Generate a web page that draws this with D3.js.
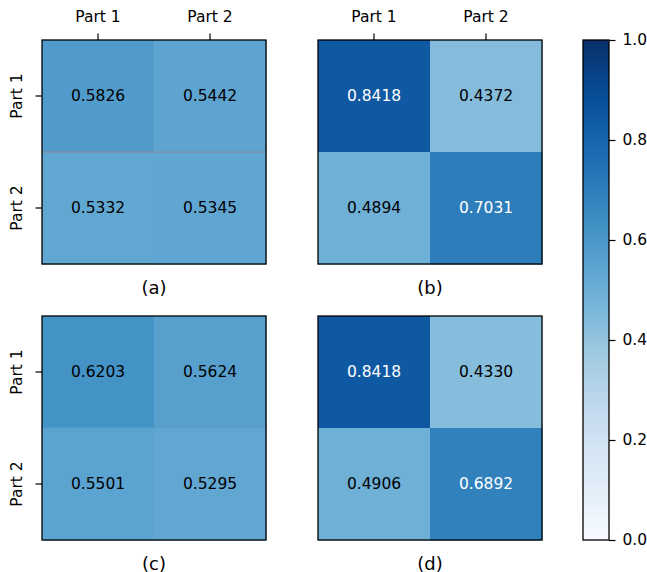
<!DOCTYPE html>
<html>
<head>
<meta charset="utf-8">
<script src="https://cdn.jsdelivr.net/npm/d3@7"></script>
<style>
  body { margin: 0; background: #fff; }
  svg { display: block; font-family: "DejaVu Sans", sans-serif; }
</style>
</head>
<body>
<svg id="chart" width="647" height="572"></svg>
<script>
// Row/column categories shared by all four matrices
const categories = ["Part 1", "Part 2"];

// Matrix values, row-major: [row][col]
const valuesA = [[0.5826, 0.5442], [0.5332, 0.5345]];
const valuesB = [[0.8418, 0.4372], [0.4894, 0.7031]];
const valuesC = [[0.6203, 0.5624], [0.5501, 0.5295]];
const valuesD = [[0.8418, 0.4330], [0.4906, 0.6892]];

const panelLabels = ["(a)", "(b)", "(c)", "(d)"];
const colorbarTicks = [0.0, 0.2, 0.4, 0.6, 0.8, 1.0];

// Blues colour map, linear through the nine ColorBrewer stops
const bluesStops = ["#f7fbff","#deebf7","#c6dbef","#9ecae1","#6baed6","#4292c6","#2171b5","#08519c","#08306b"];
const color = d3.scaleLinear()
  .domain(d3.range(bluesStops.length).map(i => i / (bluesStops.length - 1)))
  .range(bluesStops)
  .interpolate(d3.interpolateRgb)
  .clamp(true);

const svg = d3.select("#chart");
const size = 224;
const fs = 15.5;

const panels = [
  { values: valuesA, x: 42, y: 40, label: panelLabels[0], top: true, left: true, seam: "#8a8a8a" },
  { values: valuesB, x: 318, y: 40, label: panelLabels[1], top: true, left: false },
  { values: valuesC, x: 42, y: 316, label: panelLabels[2], top: false, left: true, seam: "#5d9fce" },
  { values: valuesD, x: 318, y: 316, label: panelLabels[3], top: false, left: false }
];

panels.forEach(p => {
  const g = svg.append("g").attr("transform", `translate(${p.x},${p.y})`);
  const xs = d3.scaleBand().domain(categories).range([0, size]);
  const ys = d3.scaleBand().domain(categories).range([0, size]);

  const cells = [];
  p.values.forEach((row, r) => row.forEach((v, c) => cells.push({ r: categories[r], c: categories[c], v })));

  g.selectAll("rect.cell").data(cells).join("rect")
    .attr("class", "cell")
    .attr("x", d => xs(d.c))
    .attr("y", d => ys(d.r))
    .attr("width", xs.bandwidth() + 0.5)
    .attr("height", ys.bandwidth() + 0.5)
    .attr("fill", d => color(d.v));

  if (p.seam) {
    g.append("line")
      .attr("x1", 0).attr("x2", size)
      .attr("y1", ys(categories[1])).attr("y2", ys(categories[1]))
      .attr("stroke", p.seam).attr("stroke-width", 1);
  }

  g.selectAll("text.val").data(cells).join("text")
    .attr("class", "val")
    .attr("x", d => xs(d.c) + xs.bandwidth() / 2)
    .attr("y", d => ys(d.r) + ys.bandwidth() / 2)
    .attr("text-anchor", "middle")
    .attr("dominant-baseline", "central")
    .attr("font-size", fs)
    .attr("fill", d => d.v > 0.65 ? "#ffffff" : "#000000")
    .text(d => d.v.toFixed(4));

  g.append("rect")
    .attr("width", size).attr("height", size)
    .attr("fill", "none").attr("stroke", "#000").attr("stroke-width", 1.3);

  if (p.top) {
    const ax = d3.axisTop(xs).tickSize(6.5).tickPadding(0);
    const ag = g.append("g").call(ax);
    ag.select(".domain").remove();
    ag.selectAll("line").attr("stroke", "#000").attr("stroke-width", 1.2);
    ag.selectAll("text").attr("font-size", fs).attr("fill", "#000")
      .attr("font-family", "DejaVu Sans, sans-serif")
      .attr("y", null).attr("dy", null)
      .attr("transform", "translate(0,-23)")
      .attr("dominant-baseline", "central");
  }
  if (p.left) {
    const ay = d3.axisLeft(ys).tickSize(6.5).tickPadding(4);
    const ag = g.append("g").call(ay);
    ag.select(".domain").remove();
    ag.selectAll("line").attr("stroke", "#000").attr("stroke-width", 1.2);
    ag.selectAll("text")
      .attr("font-size", fs).attr("fill", "#000")
      .attr("font-family", "DejaVu Sans, sans-serif")
      .attr("text-anchor", "middle")
      .attr("dy", null)
      .attr("x", null)
      .attr("transform", "translate(-25.5,0) rotate(-90)")
      .attr("dominant-baseline", "central");
  }

  g.append("text")
    .attr("x", size / 2).attr("y", size + 23)
    .attr("text-anchor", "middle")
    .attr("dominant-baseline", "central")
    .attr("font-size", 18)
    .attr("fill", "#000")
    .text(p.label);
});

// Colour bar
const cb = { x: 583, y: 40, w: 26, h: 500 };
const defs = svg.append("defs");
const grad = defs.append("linearGradient")
  .attr("id", "bluesGrad")
  .attr("x1", 0).attr("y1", 1).attr("x2", 0).attr("y2", 0);
grad.selectAll("stop").data(bluesStops).join("stop")
  .attr("offset", (d, i) => i / (bluesStops.length - 1))
  .attr("stop-color", d => d);

const cbScale = d3.scaleLinear().domain([0, 1]).range([cb.y + cb.h, cb.y]);
svg.append("rect")
  .attr("x", cb.x).attr("y", cb.y).attr("width", cb.w).attr("height", cb.h)
  .attr("fill", "url(#bluesGrad)")
  .attr("stroke", "#000").attr("stroke-width", 1.3);

const cbAxis = d3.axisRight(cbScale).tickValues(colorbarTicks).tickFormat(d3.format(".1f")).tickSize(6.5).tickPadding(7);
const cbg = svg.append("g").attr("transform", `translate(${cb.x + cb.w},0)`).call(cbAxis);
cbg.select(".domain").remove();
cbg.selectAll("line").attr("stroke", "#000").attr("stroke-width", 1.2);
cbg.selectAll("text").attr("font-size", fs).attr("fill", "#000")
  .attr("font-family", "DejaVu Sans, sans-serif");
</script>
</body>
</html>
